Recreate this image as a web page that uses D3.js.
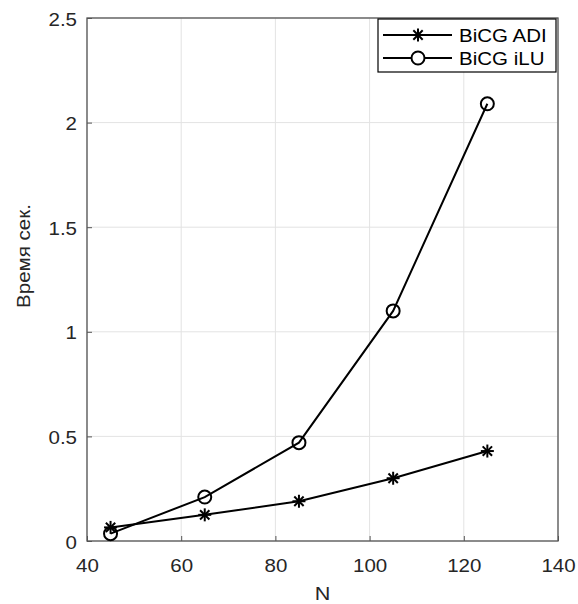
<!DOCTYPE html>
<html>
<head>
<meta charset="utf-8">
<script src="https://cdn.jsdelivr.net/npm/d3@7"></script>
<style>
  body { margin: 0; background: #fff; }
  text { font-family: "Liberation Sans", Arial, sans-serif; }
</style>
</head>
<body>
<div class="chart"></div>
<script>
// данные с картинки
const nValues = [45, 65, 85, 105, 125];
const adiTimes = [0.065, 0.125, 0.19, 0.30, 0.43];
const iluTimes = [0.035, 0.21, 0.47, 1.10, 2.09];
const xTicks = [40, 60, 80, 100, 120, 140];
const yTicks = [0, 0.5, 1, 1.5, 2, 2.5];
const seriesNames = ["BiCG ADI", "BiCG iLU"];

const width = 578, height = 604;
const margin = { left: 87, right: 20, top: 18, bottom: 63 };
const sx = 1.14; // текст в оригинале немного растянут по горизонтали

const svg = d3.select(".chart")
  .append("svg")
  .attr("width", width)
  .attr("height", height);

const x = d3.scaleLinear().domain([40, 140]).range([margin.left, width - margin.right]);
const y = d3.scaleLinear().domain([0, 2.5]).range([height - margin.bottom, margin.top]);

// сетка
svg.append("g")
  .selectAll("line.vx")
  .data(xTicks)
  .enter()
  .append("line")
  .attr("x1", d => x(d)).attr("x2", d => x(d))
  .attr("y1", y(0)).attr("y2", y(2.5))
  .attr("stroke", "#e3e3e3")
  .attr("stroke-width", 1);

svg.append("g")
  .selectAll("line.hy")
  .data(yTicks)
  .enter()
  .append("line")
  .attr("x1", x(40)).attr("x2", x(140))
  .attr("y1", d => y(d)).attr("y2", d => y(d))
  .attr("stroke", "#e3e3e3")
  .attr("stroke-width", 1);

// оси (тики внутрь)
const xAxis = svg.append("g")
  .attr("transform", "translate(0," + y(0) + ")")
  .call(d3.axisBottom(x).tickValues(xTicks).tickSize(-5).tickPadding(0).tickFormat(d3.format("d")));
const yAxis = svg.append("g")
  .attr("transform", "translate(" + x(40) + ",0)")
  .call(d3.axisLeft(y).tickValues(yTicks).tickSize(-5).tickPadding(0).tickFormat(d => String(d)));

[xAxis, yAxis].forEach(function(a) {
  a.select(".domain").remove();
  a.selectAll("line").attr("stroke", "#555").attr("stroke-width", 1);
  a.selectAll("text")
    .attr("fill", "#262626")
    .style("font-size", "18px")
    .style("font-family", "'Liberation Sans', Arial, sans-serif");
});
xAxis.selectAll("text")
  .attr("y", 0).attr("dy", 0)
  .attr("transform", "translate(0,31) scale(" + sx + ",1)");
yAxis.selectAll("text")
  .attr("x", 0).attr("dy", 0)
  .attr("transform", "translate(-10,7) scale(" + sx + ",1)");

// рамка
svg.append("rect")
  .attr("x", x(40)).attr("y", y(2.5))
  .attr("width", x(140) - x(40))
  .attr("height", y(0) - y(2.5))
  .attr("fill", "none")
  .attr("stroke", "#555")
  .attr("stroke-width", 1.3);

// подписи осей
svg.append("text")
  .attr("transform", "translate(" + ((x(40) + x(140)) / 2) + ",600) scale(" + sx + ",1)")
  .attr("text-anchor", "middle")
  .attr("fill", "#262626")
  .style("font-size", "19px")
  .text("N");

svg.append("text")
  .attr("transform", "translate(30,256) rotate(-90) scale(" + sx + ",1)")
  .attr("text-anchor", "middle")
  .attr("fill", "#262626")
  .style("font-size", "18px")
  .text("Время сек.");

// линии
const line = d3.line()
  .x((d, i) => x(nValues[i]))
  .y(d => y(d));

svg.append("path")
  .datum(adiTimes)
  .attr("d", line)
  .attr("fill", "none")
  .attr("stroke", "#000")
  .attr("stroke-width", 2);

svg.append("path")
  .datum(iluTimes)
  .attr("d", line)
  .attr("fill", "none")
  .attr("stroke", "#000")
  .attr("stroke-width", 2);

// маркер-звёздочка
function star(g, r) {
  const k = r * 0.72;
  g.append("line").attr("x1", -r).attr("x2", r).attr("y1", 0).attr("y2", 0);
  g.append("line").attr("x1", 0).attr("x2", 0).attr("y1", -r).attr("y2", r);
  g.append("line").attr("x1", -k).attr("x2", k).attr("y1", -k).attr("y2", k);
  g.append("line").attr("x1", -k).attr("x2", k).attr("y1", k).attr("y2", -k);
  g.selectAll("line").attr("stroke", "#000").attr("stroke-width", 2);
}

svg.selectAll("g.adi")
  .data(adiTimes)
  .enter()
  .append("g")
  .attr("class", "adi")
  .attr("transform", (d, i) => "translate(" + x(nValues[i]) + "," + y(d) + ")")
  .each(function() { star(d3.select(this), 6.5); });

svg.selectAll("circle.ilu")
  .data(iluTimes)
  .enter()
  .append("circle")
  .attr("class", "ilu")
  .attr("cx", (d, i) => x(nValues[i]))
  .attr("cy", d => y(d))
  .attr("r", 6.5)
  .attr("fill", "none")
  .attr("stroke", "#000")
  .attr("stroke-width", 2);

// легенда
const lg = svg.append("g").attr("transform", "translate(378,19)");
lg.append("rect")
  .attr("width", 178).attr("height", 53)
  .attr("fill", "#fff")
  .attr("stroke", "#000")
  .attr("stroke-width", 1.2);

seriesNames.forEach(function(name, i) {
  const row = lg.append("g").attr("transform", "translate(0," + (16 + i * 23) + ")");
  row.append("line")
    .attr("x1", 5).attr("x2", 74)
    .attr("stroke", "#000").attr("stroke-width", 2);
  if (i === 0) {
    star(row.append("g").attr("transform", "translate(40,0)"), 6.5);
  } else {
    row.append("circle")
      .attr("cx", 40).attr("r", 6.5)
      .attr("fill", "#fff").attr("stroke", "#000").attr("stroke-width", 2);
  }
  row.append("text")
    .attr("transform", "translate(81,6.5) scale(" + sx + ",1)")
    .attr("fill", "#000")
    .style("font-size", "18px")
    .text(name);
});
</script>
</body>
</html>
